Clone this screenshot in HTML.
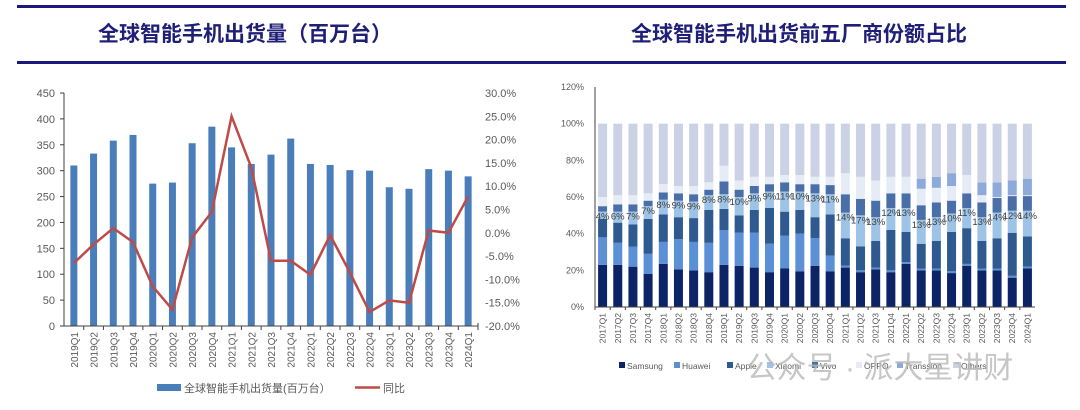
<!DOCTYPE html>
<html><head><meta charset="utf-8">
<style>
body{margin:0;background:#fff;width:1080px;height:410px;overflow:hidden;font-family:"Liberation Sans","Noto Sans CJK SC",sans-serif;}
svg{position:absolute;left:0;top:0}
</style></head>
<body>
<svg id="chart" width="1080" height="410">
<rect x="17" y="5" width="1049" height="3" fill="#1a1a7e"/>
<rect x="17" y="61" width="1049" height="3" fill="#1a1a7e"/>
<text x="245" y="41" text-anchor="middle" font-size="21" font-weight="bold" fill="#1f1f78" font-family="'Liberation Sans','Noto Sans CJK SC',sans-serif">全球智能手机出货量（百万台）</text>
<text x="799" y="41" text-anchor="middle" font-size="21" font-weight="bold" fill="#1f1f78" font-family="'Liberation Sans','Noto Sans CJK SC',sans-serif">全球智能手机出货前五厂商份额占比</text>
<g id="left"></g>
<g id="right"></g>
<text x="880" y="378" text-anchor="middle" font-size="30" fill="#b8b8b8" opacity="0.8" font-family="'Liberation Sans','Noto Sans CJK SC',sans-serif">公众号 · 派大星讲财</text>
</svg>
<script>
const NS='http://www.w3.org/2000/svg';
function mk(tag,attrs,parent,txt){const e=document.createElementNS(NS,tag);for(const k in attrs)e.setAttribute(k,attrs[k]);if(txt!==undefined)e.textContent=txt;parent.appendChild(e);return e;}

// ---------- Left chart data ----------
const quartersL=['2019Q1','2019Q2','2019Q3','2019Q4','2020Q1','2020Q2','2020Q3','2020Q4','2021Q1','2021Q2','2021Q3','2021Q4','2022Q1','2022Q2','2022Q3','2022Q4','2023Q1','2023Q2','2023Q3','2023Q4','2024Q1'];
const shipments=[310,333,358,369,275,277,353,385,345,313,331,362,313,311,301,300,268,265,303,300,289];
const yoy=[-6.5,-2.5,1.0,-2.0,-11.5,-16.5,-1.0,4.5,25.0,14.0,-6.0,-6.0,-9.0,-0.5,-8.5,-17.0,-14.5,-15.0,0.5,0.0,7.8];
const leftTicks=[0,50,100,150,200,250,300,350,400,450];
const rightTicks=[-20,-15,-10,-5,0,5,10,15,20,25,30];

// ---------- Right chart data ----------
const quartersR=['2017Q1','2017Q2','2017Q3','2017Q4','2018Q1','2018Q2','2018Q3','2018Q4','2019Q1','2019Q2','2019Q3','2019Q4','2020Q1','2020Q2','2020Q3','2020Q4','2021Q1','2021Q2','2021Q3','2021Q4','2022Q1','2022Q2','2022Q3','2022Q4','2023Q1','2023Q2','2023Q3','2023Q4','2024Q1'];
const samsung=[23,23,22,18,23.5,20.5,20,19,23,22.5,21.5,19,21,19.5,22.5,19.5,21.5,19,20.5,19,23.5,20,20,18.5,22.5,20,20,16,21];
const huawei=[15,12,11,11,12,16.5,15.5,16,19,18,19,15.5,18,20.5,15,8.5,1,1,1,1,1,1,1,1,1,1,1,1,1];
const apple=[10,11,12,19,15,12,13,18,11.5,9.5,12.5,19.5,13,13,11.5,22.5,15,13,14.5,22,16.5,13.5,15,21.5,19.5,15,16.5,23.5,16.5];
const xiaomi=[4,6,7,7,8,9,9,8,8,10,9,9,11,10,13,11,14,17,13,12,13,13,13,10,11,13,14,12,14];
const vivo=[3,4,4,3,4,4,4,3,7,4,4,4,5,4,5,5,10,9,9,8,8,8,8,7,8,8,8,8,8];
const oppo=[5,5,5,4,4.5,4,4.5,4,8.5,5,5,4,4,5,4,4.5,11.5,12,11,9,9,9,8,8,10,4,0.5,0.5,0.5];
const transsion=[0,0,0,0,0,0,0,0,0,0,0,0,0,0,0,0,0,0,0,0,0,5.5,6,7,0,7,8,8,9];
const seriesNames=['Samsung','Huawei','Apple','Xiaomi','Vivo','OPPO','Transsion','Others'];
const pctTicks=[0,20,40,60,80,100,120];

// ---------- Left chart ----------
(function(){
  const g=document.getElementById('left');
  const x0=64,x1=478,yB=326,yT=93;
  const band=(x1-x0)/quartersL.length;
  const yL=v=>yB-(v/450)*(yB-yT);
  const yR=v=>yB-((v+20)/50)*(yB-yT);
  const xC=i=>x0+band*(i+0.5);
  leftTicks.forEach(t=>{
    const e=mk('text',{x:55,y:yL(t)+4,'text-anchor':'end','font-size':11,fill:'#595959'},g,String(t));
    
    
    mk('line',{x1:x0-4,x2:x0,y1:yL(t),y2:yL(t),stroke:'#404040'},g);
  });
  rightTicks.forEach(t=>{
    const e=mk('text',{x:485,y:yR(t)+4,'font-size':11,fill:'#595959'},g,t.toFixed(1)+'%');
    
    
  });
  shipments.forEach((v,i)=>{
    const r=mk('rect',{x:xC(i)-3.5,y:yL(v),width:7,height:yB-yL(v),fill:'#4a7ebb'},g);
    
    
    const l=mk('text',{transform:`translate(${xC(i)+4},${yB+6}) rotate(-90)`,'text-anchor':'end','font-size':10,fill:'#595959'},g,quartersL[i]);
    
    
    mk('line',{x1:x0+band*(i+1),x2:x0+band*(i+1),y1:yB,y2:yB+4,stroke:'#404040'},g);
  });
  mk('line',{x1:x0,x2:x0,y1:yT,y2:yB,stroke:'#404040'},g);
  mk('line',{x1:x0,x2:x1,y1:yB,y2:yB,stroke:'#404040'},g);
  mk('line',{x1:x1,x2:x1,y1:yB-3,y2:yB,stroke:'#404040'},g);
  const pl=mk('polyline',{points:yoy.map((v,i)=>xC(i)+','+yR(v)).join(' '),fill:'none',stroke:'#be4b48','stroke-width':2.5},g);
  
  
  const lr=mk('rect',{x:157,y:384,width:24,height:7,fill:'#4a7ebb'},g);
  
  
  const lt=mk('text',{x:184,y:392,'font-size':11,fill:'#595959'},g,'全球智能手机出货量(百万台）');
  
  
  mk('line',{x1:355,x2:380,y1:387.5,y2:387.5,stroke:'#be4b48','stroke-width':2.5},g);
  const lt2=mk('text',{x:383,y:392,'font-size':11,fill:'#595959'},g,'同比');
  
  
})();

// ---------- Right chart ----------
(function(){
  const g=document.getElementById('right');
  const x0=595,x1=1035,yB=307,yT=87;
  const band=(x1-x0)/quartersR.length;
  const y=v=>yB-(v/120)*(yB-yT);
  const xC=i=>x0+band*(i+0.5);
  const colors=['#0c2466','#5b8fd6','#2f5a8f','#9dc3e6','#4a6fa8','#e6ecf6','#8eaadb','#ccd2e6'];
  pctTicks.forEach(t=>{
    const e=mk('text',{x:584,y:y(t)+3,'text-anchor':'end','font-size':9,fill:'#595959'},g,t+'%');
    
    
  });
  const series=[samsung,huawei,apple,xiaomi,vivo,oppo,transsion];
  quartersR.forEach((q,i)=>{
    let acc=0;
    const vals=series.map(s=>s[i]);
    vals.push(100-vals.reduce((a,b)=>a+b,0));
    let xiaTop=0;
    vals.forEach((v,k)=>{
      const r=mk('rect',{x:xC(i)-4.5,y:y(acc+v),width:9,height:y(acc)-y(acc+v),fill:colors[k]},g);
      
      
      acc+=v;
      if(k===3)xiaTop=acc;
    });
    const lb=mk('text',{x:xC(i),y:y(xiaTop)+8,'text-anchor':'middle','font-size':9.5,fill:'#404040'},g,xiaomi[i]+'%');
    
    
    const l=mk('text',{transform:`translate(${xC(i)+3},${yB+6}) rotate(-90)`,'text-anchor':'end','font-size':8.5,fill:'#595959'},g,q);
    
    
    mk('line',{x1:x0+band*i,x2:x0+band*i,y1:yB,y2:yB+3,stroke:'#404040'},g);
  });
  mk('line',{x1:x0,x2:x0,y1:yT,y2:yB,stroke:'#404040'},g);
  mk('line',{x1:x0,x2:x1,y1:yB,y2:yB,stroke:'#404040'},g);
  const lx=[619,674,727,767,812,856,897,953];
  seriesNames.forEach((n,k)=>{
    mk('rect',{x:lx[k],y:362,width:6,height:6,fill:colors[k]},g);
    const t=mk('text',{x:lx[k]+8,y:369,'font-size':8.5,fill:'#595959'},g,n);
    
    
  });
})();
</script>
</body></html>
